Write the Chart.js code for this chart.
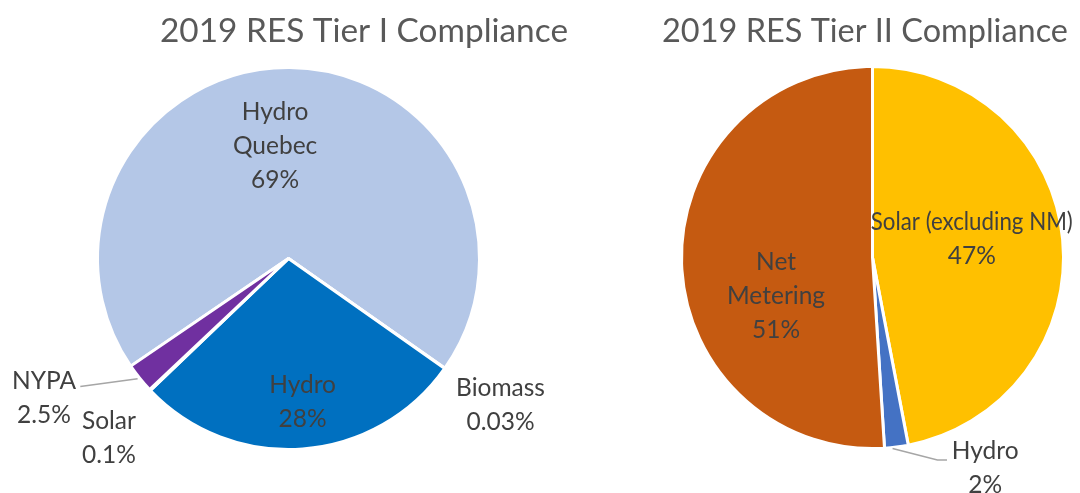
<!DOCTYPE html>
<html>
<head>
<meta charset="utf-8">
<script src="https://cdn.jsdelivr.net/npm/chart.js@4.4.1/dist/chart.umd.min.js"></script>
<style>
  html, body { margin: 0; padding: 0; background: #fff; }
  #wrap { position: relative; width: 1080px; height: 493px; }
  .box { position: absolute; top: 0; height: 493px; }
</style>
</head>
<body>
<div id="wrap">
  <div class="box" style="left:0;width:620px"><canvas id="tier1"></canvas></div>
  <div class="box" style="left:540px;width:540px"><canvas id="tier2"></canvas></div>
</div>
<script>
// Tier I data
var tier1Labels = ['Hydro Quebec', 'Biomass', 'Hydro', 'Solar', 'NYPA'];
var tier1Values = [69, 0.03, 28, 0.1, 2.5];
var tier1Text = ['69%', '0.03%', '28%', '0.1%', '2.5%'];

// Tier II data
var tier2Labels = ['Solar (excluding NM)', 'Hydro', 'Net Metering'];
var tier2Values = [47, 2, 51];
var tier2Text = ['47%', '2%', '51%'];

var FONT = 'Lato, "Open Sans", sans-serif';

// draws titles, slice labels and leader lines
var labelPlugin = {
  id: 'sliceLabels',
  afterDraw: function (chart, args, opts) {
    var ctx = chart.ctx;
    var arc = chart.getDatasetMeta(0).data[0];
    var cx = arc.x, cy = arc.y, R = arc.outerRadius;
    ctx.save();
    ctx.fillStyle = '#595959';
    ctx.font = '33.5px ' + FONT;
    ctx.textAlign = 'center';
    ctx.textBaseline = 'middle';
    ctx.fillText(opts.title, opts.titleX, 31, opts.titleWidth);

    // leader lines
    ctx.strokeStyle = '#a6a6a6';
    ctx.lineWidth = 1.5;
    (opts.leaders || []).forEach(function (pts) {
      ctx.beginPath();
      pts.forEach(function (p, i) {
        var x = cx + p[0] * R, y = cy + p[1] * R;
        if (i === 0) ctx.moveTo(x, y); else ctx.lineTo(x, y);
      });
      ctx.stroke();
    });

    ctx.fillStyle = '#404040';
    ctx.font = '24.5px ' + FONT;
    opts.lines.forEach(function (lines, i) {
      var pos = opts.pos[i];
      var x = cx + pos[0] * R, y = cy + pos[1] * R;
      var lh = 34;
      var top = y - (lines.length - 1) * lh / 2;
      lines.forEach(function (t, j) {
        ctx.fillText(t, x, top + j * lh, 202);
      });
    });
    ctx.restore();
  }
};

new Chart(document.getElementById('tier1'), {
  type: 'pie',
  data: {
    labels: tier1Labels,
    datasets: [{
      data: tier1Values,
      backgroundColor: ['#B4C7E7', '#70AD47', '#0070C0', '#FFC000', '#7030A0'],
      borderColor: '#ffffff',
      borderWidth: 3
    }]
  },
  options: {
    responsive: true,
    maintainAspectRatio: false,
    animation: false,
    rotation: -124.3,
    layout: { padding: { left: 96, right: 139, top: 66, bottom: 42 } },
    plugins: {
      legend: { display: false },
      tooltip: { enabled: false },
      sliceLabels: {
        title: '2019 RES Tier I Compliance',
        titleX: 364,
        titleWidth: 408,
        lines: [
          ['Hydro', 'Quebec', tier1Text[0]],
          ['Biomass', tier1Text[1]],
          ['Hydro', tier1Text[2]],
          ['Solar', tier1Text[3]],
          ['NYPA', tier1Text[4]]
        ],
        pos: [[-0.07, -0.59], [1.11, 0.77], [0.074, 0.75], [-0.94, 0.94], [-1.28, 0.73]],
        leaders: [[[-1.09, 0.67], [-0.79, 0.63]]]
      }
    }
  },
  plugins: [labelPlugin]
});

new Chart(document.getElementById('tier2'), {
  type: 'pie',
  data: {
    labels: tier2Labels,
    datasets: [{
      data: tier2Values,
      backgroundColor: ['#FFC000', '#4472C4', '#C55A11'],
      borderColor: '#ffffff',
      borderWidth: 3
    }]
  },
  options: {
    responsive: true,
    maintainAspectRatio: false,
    animation: false,
    layout: { padding: { left: 140, right: 15, top: 65, bottom: 43 } },
    plugins: {
      legend: { display: false },
      tooltip: { enabled: false },
      sliceLabels: {
        title: '2019 RES Tier II Compliance',
        titleX: 325,
        titleWidth: 406,
        lines: [
          ['Solar (excluding NM)', tier2Text[0]],
          ['Hydro', tier2Text[1]],
          ['Net', 'Metering', tier2Text[2]]
        ],
        pos: [[0.52, -0.095], [0.59, 1.1], [-0.505, 0.2]],
        leaders: [[[0.105, 1.0], [0.34, 1.06], [0.39, 1.06]]]
      }
    }
  },
  plugins: [labelPlugin]
});
</script>
</body>
</html>
